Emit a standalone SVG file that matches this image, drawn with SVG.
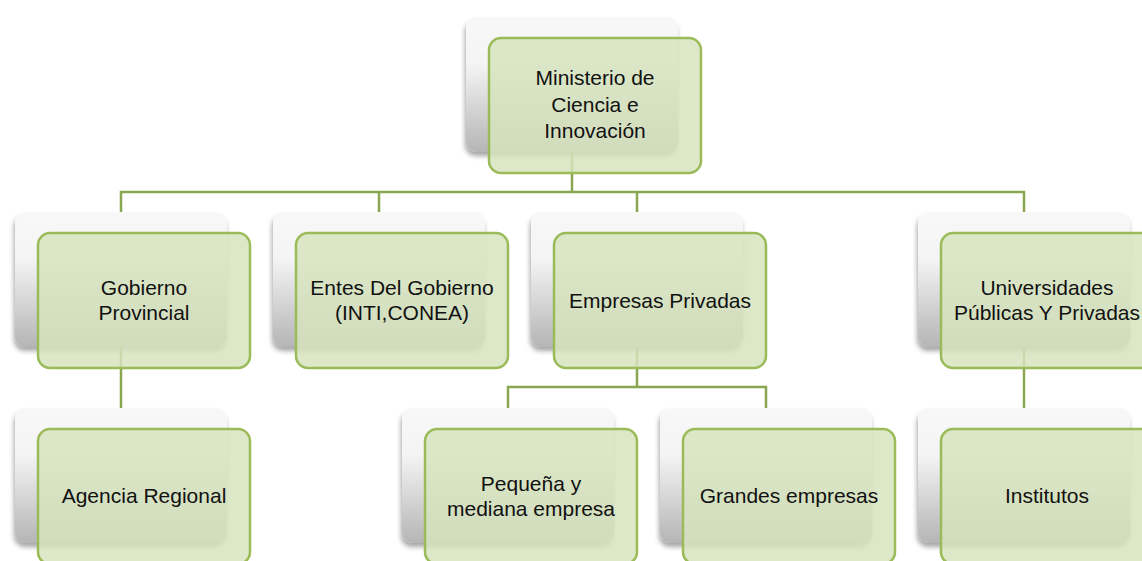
<svg xmlns="http://www.w3.org/2000/svg" width="1142" height="561" viewBox="0 0 1142 561">
<defs>
<linearGradient id="bg" x1="0" y1="0" x2="0" y2="1">
<stop offset="0" stop-color="#F8F8F8"/>
<stop offset="0.35" stop-color="#F4F4F4"/>
<stop offset="1" stop-color="#B5B5B5"/>
</linearGradient>
<filter id="sh" x="-10%" y="-10%" width="120%" height="125%">
<feGaussianBlur in="SourceAlpha" stdDeviation="2.5"/>
<feOffset dx="-1" dy="4" result="b"/>
<feComponentTransfer><feFuncA type="linear" slope="0.35"/></feComponentTransfer>
<feMerge><feMergeNode/><feMergeNode in="SourceGraphic"/></feMerge>
</filter>
</defs>
<style>
.back{fill:url(#bg);filter:url(#sh)}
.front{fill:#D7E3BF;fill-opacity:0.84;stroke:#9BBB59;stroke-width:2.5}
.conn{fill:none;stroke:#8BA651;stroke-width:2.5}
text{font-family:"Liberation Sans",Arial,sans-serif;font-size:21px;fill:#111;text-anchor:middle}
</style>
<rect width="1142" height="561" fill="#FFFFFF"/>
<g id="backs">
<rect class="back" x="466" y="17" width="212" height="135" rx="11"/>
<rect class="back" x="15" y="212" width="212" height="135" rx="11"/>
<rect class="back" x="273" y="212" width="212" height="135" rx="11"/>
<rect class="back" x="531" y="212" width="212" height="135" rx="11"/>
<rect class="back" x="918" y="212" width="212" height="135" rx="11"/>
<rect class="back" x="15" y="408" width="212" height="135" rx="11"/>
<rect class="back" x="402" y="408" width="212" height="135" rx="11"/>
<rect class="back" x="660" y="408" width="212" height="135" rx="11"/>
<rect class="back" x="918" y="408" width="212" height="135" rx="11"/>
</g>
<g id="connectors">
<path class="conn" d="M572 152V192M121 212V192H1024V212M379 192V212M637 192V212"/>
<path class="conn" d="M121 347V408"/>
<path class="conn" d="M637 347V387M508 408V387H766V408"/>
<path class="conn" d="M1024 347V408"/>
</g>
<g id="ministerio">
<rect class="front" x="489" y="38" width="212" height="135" rx="12"/>
<text x="595" y="85">Ministerio de</text>
<text x="595" y="112">Ciencia e</text>
<text x="595" y="138">Innovación</text>
</g>
<g id="gobierno">
<rect class="front" x="38" y="233" width="212" height="135" rx="12"/>
<text x="144" y="295">Gobierno</text>
<text x="144" y="320">Provincial</text>
</g>
<g id="entes">
<rect class="front" x="296" y="233" width="212" height="135" rx="12"/>
<text x="402" y="295">Entes Del Gobierno</text>
<text x="402" y="320">(INTI,CONEA)</text>
</g>
<g id="empresas">
<rect class="front" x="554" y="233" width="212" height="135" rx="12"/>
<text x="660" y="308">Empresas Privadas</text>
</g>
<g id="universidades">
<rect class="front" x="941" y="233" width="212" height="135" rx="12"/>
<text x="1047" y="295">Universidades</text>
<text x="1047" y="320">Públicas Y Privadas</text>
</g>
<g id="agencia">
<rect class="front" x="38" y="429" width="212" height="135" rx="12"/>
<text x="144" y="503">Agencia Regional</text>
</g>
<g id="pequena">
<rect class="front" x="425" y="429" width="212" height="135" rx="12"/>
<text x="531" y="491">Pequeña y</text>
<text x="531" y="516">mediana empresa</text>
</g>
<g id="grandes">
<rect class="front" x="683" y="429" width="212" height="135" rx="12"/>
<text x="789" y="503">Grandes empresas</text>
</g>
<g id="institutos">
<rect class="front" x="941" y="429" width="212" height="135" rx="12"/>
<text x="1047" y="503">Institutos</text>
</g>
</svg>
